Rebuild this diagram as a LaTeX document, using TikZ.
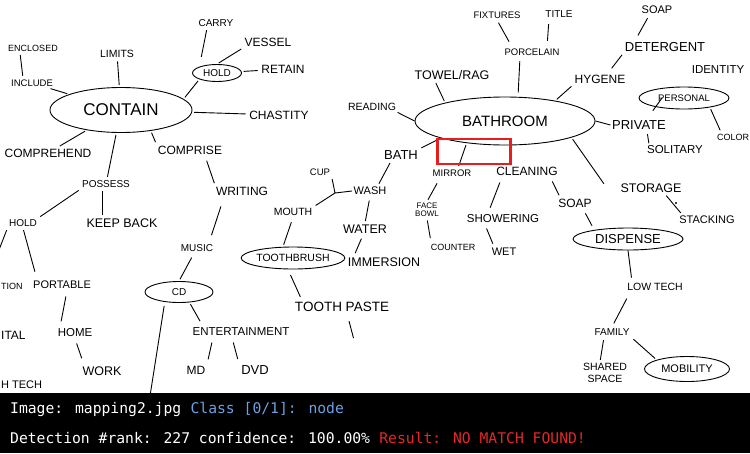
\documentclass[tikz,border=0pt]{standalone}
\usepackage{fontspec}
\setmainfont{Liberation Sans}
\newfontfamily\barfont{DejaVu Sans Mono}
\usetikzlibrary{shapes.geometric}
\definecolor{clsblue}{RGB}{110,160,225}
\definecolor{resred}{RGB}{228,40,40}
\definecolor{boxred}{RGB}{232,30,30}
\newcommand{\fsz}[1]{\fontsize{#1}{#1}\selectfont}
\begin{document}
\begin{tikzpicture}[x=1pt,y=-1pt,
  lbl/.style={inner sep=1.5pt,font=\fsz{10.5}},
  ov/.style={draw,ellipse,line width=0.9pt,inner sep=0pt},
  cn/.style={line width=0.9pt,shorten >=2pt,shorten <=2pt},
  bartext/.style={anchor=base west,inner sep=0pt,font=\barfont\fsz{14.7}}]
\useasboundingbox (0,0) rectangle (750,453);
\fill[white] (0,0) rectangle (750,453);
\begin{scope}
\clip (0,0) rectangle (750,393);
% ---------- CONTAIN cluster ----------
\node[ov,minimum width=142pt,minimum height=45pt,font=\fsz{17}] (contain) at (121,110) {CONTAIN};
\node[lbl] (limits) at (117,54) {LIMITS};
\node[lbl,font=\fsz{9}] (enclosed) at (33,48) {ENCLOSED};
\node[lbl,font=\fsz{9.5}] (include) at (32,83) {INCLUDE};
\node[lbl,font=\fsz{12}] (comprehend) at (48,153) {COMPREHEND};
\node[lbl,font=\fsz{12}] (comprise) at (190,150) {COMPRISE};
\node[lbl,font=\fsz{10}] (possess) at (106,184) {POSSESS};
\node[ov,minimum width=49pt,minimum height=17pt,font=\fsz{10}] (hold1) at (217,73) {HOLD};
\node[lbl,font=\fsz{10}] (carry) at (216,23) {CARRY};
\node[lbl,font=\fsz{12}] (vessel) at (268,42) {VESSEL};
\node[lbl,font=\fsz{12}] (retain) at (283,69) {RETAIN};
\node[lbl,font=\fsz{12}] (chastity) at (279,115) {CHASTITY};
\node[lbl,font=\fsz{10}] (hold2) at (23,223) {HOLD};
\node[lbl,font=\fsz{12.5}] (keepback) at (122,223) {KEEP BACK};
\node[font=\fsz{9},anchor=west,inner sep=0pt] (tion) at (1,286) {TION};
\node[lbl,font=\fsz{11}] (portable) at (62,285) {PORTABLE};
\node[font=\fsz{12},anchor=west,inner sep=0pt] (ital) at (1,335) {ITAL};
\node[lbl,font=\fsz{11.5}] (home) at (75,333) {HOME};
\node[lbl,font=\fsz{12.5}] (work) at (102,371) {WORK};
\node[font=\fsz{11},anchor=west,inner sep=0pt] (htech) at (1,385) {H TECH};
\node[lbl,font=\fsz{12}] (writing) at (242,191) {WRITING};
\node[lbl,font=\fsz{10}] (music) at (197,248) {MUSIC};
\node[ov,minimum width=68pt,minimum height=21pt,font=\fsz{10}] (cd) at (179,292) {CD};
\node[lbl,font=\fsz{11.5}] (entertainment) at (241,332) {ENTERTAINMENT};
\node[lbl,font=\fsz{12}] (md) at (196,370) {MD};
\node[lbl,font=\fsz{13}] (dvd) at (255,370) {DVD};
\coordinate (cdend) at (150,396);
% ---------- middle ----------
\node[lbl,font=\fsz{9.5}] (cup) at (320,172) {CUP};
\node[lbl,font=\fsz{11}] (wash) at (370,191) {WASH};
\node[lbl,font=\fsz{10.5}] (mouth) at (293,212) {MOUTH};
\node[lbl,font=\fsz{12.5}] (water) at (365,229) {WATER};
\node[lbl,font=\fsz{12.5}] (immersion) at (384,262) {IMMERSION};
\node[ov,minimum width=84pt,minimum height=22pt,font=\fsz{10.5}] (toothbrush) at (293,258) {TOOTHBRUSH};
\node[lbl,font=\fsz{13.5}] (toothpaste) at (342,307) {TOOTH PASTE};
\coordinate (tpend) at (354,340);
\coordinate (cupbend) at (335,193);
\node[lbl,font=\fsz{13}] (bath) at (401,155) {BATH};
% ---------- BATHROOM cluster ----------
\node[ov,minimum width=180pt,minimum height=48pt,font=\fsz{15}] (bathroom) at (505,121) {BATHROOM};
\node[lbl,font=\fsz{12.5}] (towel) at (452,75) {TOWEL/RAG};
\node[lbl,font=\fsz{10.5}] (reading) at (372,107) {READING};
\node[lbl,font=\fsz{9.5}] (mirror) at (452,173) {MIRROR};
\node[lbl,font=\fsz{12}] (cleaning) at (527,171) {CLEANING};
\node[lbl,font=\fsz{9.5}] (porcelain) at (532,52) {PORCELAIN};
\node[lbl,font=\fsz{9.5}] (fixtures) at (497,15) {FIXTURES};
\node[lbl,font=\fsz{10}] (title) at (559,14) {TITLE};
\node[lbl,font=\fsz{12}] (hygene) at (600,79) {HYGENE};
\node[lbl,font=\fsz{13}] (detergent) at (665,47) {DETERGENT};
\node[lbl,font=\fsz{11}] (soapa) at (657,10) {SOAP};
\node[lbl,font=\fsz{11.5}] (identity) at (718,70) {IDENTITY};
\node[ov,minimum width=90pt,minimum height=22pt,font=\fsz{9.5}] (personal) at (684,98) {PERSONAL};
\node[lbl,font=\fsz{13}] (private) at (639,125) {PRIVATE};
\node[lbl,font=\fsz{9}] (color) at (733,137) {COLOR};
\node[lbl,font=\fsz{11.5}] (solitary) at (675,150) {SOLITARY};
\node[lbl,font=\fsz{12.5}] (storage) at (651,188) {STORAGE};
\node[lbl,font=\fsz{11}] (stacking) at (707,220) {STACKING};
\node[lbl,font=\fsz{12}] (soapb) at (575,203) {SOAP};
\node[ov,minimum width=110pt,minimum height=22pt,font=\fsz{13}] (dispense) at (628,239) {DISPENSE};
\node[lbl,font=\fsz{10.5}] (lowtech) at (655,287) {LOW TECH};
\node[lbl,font=\fsz{10}] (family) at (612,332) {FAMILY};
\node[lbl,font=\fsz{10.5},align=center] (shared) at (605,373) {SHARED\\[1pt]SPACE};
\node[ov,minimum width=85pt,minimum height=25pt,font=\fsz{11}] (mobility) at (687,369) {MOBILITY};
\node[lbl,font=\fsz{8},align=center] (facebowl) at (427,210) {FACE\\BOWL};
\node[lbl,font=\fsz{9}] (counter) at (453,247) {COUNTER};
\node[lbl,font=\fsz{11.5}] (showering) at (503,219) {SHOWERING};
\node[lbl,font=\fsz{11}] (wet) at (504,252) {WET};
% ---------- connectors ----------
\draw[cn] (contain) -- (limits);
\draw[cn] ([xshift=-13pt]enclosed.south) -- ([xshift=-9pt]include.north);
\draw[cn] (include) -- (contain);
\draw[cn] (contain) -- (comprehend);
\draw[cn] (contain.-35) -- (comprise.north west);
\draw[cn] (contain) -- (possess);
\draw[cn] (contain.10) -- (hold1.south west);
\draw[cn,shorten <=10pt] (hold1.north west) -- ([xshift=-9pt]carry.south);
\draw[cn] (hold1.north) -- (vessel.south west);
\draw[cn] (hold1) -- (retain);
\draw[cn] (contain) -- (chastity);
\draw[cn] (possess.south west) -- (hold2.north east);
\draw[cn] ([xshift=-4pt]possess.south) -- ([xshift=-20pt]keepback.north);
\coordinate (holdoff) at (-3,255);
\draw[cn] (hold2.south west) -- (holdoff);
\draw[cn,shorten >=8pt] (hold2.south) -- ([xshift=-25pt]portable.north);
\draw[cn,shorten <=6pt,shorten >=6pt] ([xshift=5pt]portable.south) -- ([xshift=-15pt]home.north);
\draw[cn,shorten <=5pt,shorten >=7pt] (home.south) -- ([xshift=-18pt]work.north);
\draw[cn,shorten <=5pt] ([xshift=15pt]comprise.south) -- ([xshift=-27pt]writing.north);
\draw[cn,shorten <=10pt,shorten >=8pt] ([xshift=-18pt]writing.south) -- ([xshift=12pt]music.north);
\draw[cn,shorten <=5pt] ([xshift=-3pt]music.south) -- (cd.north);
\draw[cn,shorten <=4pt] (cd.-145) -- (cdend);
\draw[cn,shorten >=6pt] (cd.-45) -- ([xshift=-38pt]entertainment.north);
\draw[cn,shorten <=5pt,shorten >=5pt] ([xshift=-28pt]entertainment.south) -- (md.north east);
\draw[cn,shorten <=5pt,shorten >=5pt] ([xshift=-9pt]entertainment.south) -- ([xshift=-16pt]dvd.north);
\draw[cn,shorten >=0pt] (cup.south east) -- (cupbend) -- (wash.west);
\draw[cn,shorten >=0pt] (mouth.north east) -- (cupbend);
\draw[cn,shorten <=2pt] ([xshift=8pt]wash.north) -- ([xshift=-10pt]bath.south);
\draw[cn,shorten <=4pt] (wash.south) -- (water.north);
\draw[cn,shorten <=4pt,shorten >=3pt] ([xshift=-2pt]water.south) -- ([xshift=-30pt]immersion.north);
\draw[cn,shorten <=5pt] (mouth.south) -- ([xshift=-10pt]toothbrush.north);
\draw[cn,shorten <=6pt,shorten >=4pt] ([xshift=-5pt]toothbrush.south) -- ([xshift=-40pt]toothpaste.north);
\draw[cn,shorten <=8pt] ([xshift=5pt]toothpaste.south) -- (tpend);
\draw[cn] (bathroom.-165) -- (bath.north east);
\draw[cn] (bathroom.-150) -- ([xshift=6pt]mirror.north);
\draw[cn] ([xshift=-17pt]towel.south) -- (bathroom.163);
\draw[cn,shorten <=0pt,shorten >=0pt] (reading.south east) -- (bathroom.west);
\draw[cn,shorten <=4pt,shorten >=4pt] ([xshift=-12pt]porcelain.south) -- ([xshift=13pt]bathroom.north);
\draw[cn,shorten <=6pt,shorten >=3pt] ([xshift=-20pt]porcelain.north) -- (fixtures.south);
\draw[cn,shorten <=6pt,shorten >=5pt] ([xshift=15pt]porcelain.north) -- ([xshift=-10pt]title.south);
\draw[cn] (bathroom.22) -- (hygene.south west);
\draw[cn,shorten <=6pt] ([xshift=8pt]hygene.north) -- (detergent.south west);
\draw[cn,shorten <=6pt,shorten >=3pt] ([xshift=-30pt]detergent.north) -- ([xshift=-8pt]soapa.south);
\draw[cn,shorten <=0pt,shorten >=0pt] (bathroom.east) -- (private.west);
\draw[cn,shorten <=10pt,shorten >=0pt] ([xshift=8pt]private.north) -- ([xshift=-22pt]personal.center);
\draw[cn,shorten <=3pt,shorten >=1pt] ([xshift=8pt]private.south) -- ([xshift=-26pt]solitary.north);
\draw[cn] (personal.-20) -- ([xshift=-12pt]color.north);
\draw[cn,shorten >=5pt] (bathroom.-14) -- ([xshift=-12pt]storage.west);
\draw[cn] ([xshift=14pt]storage.south) -- ([xshift=-25pt]stacking.north);
\fill (676,203) circle (1.2pt);
\draw[cn,shorten <=6pt,shorten >=6pt] ([xshift=-25pt]cleaning.south) -- ([xshift=-15pt]showering.north);
\draw[cn,shorten <=5pt] ([xshift=23pt]cleaning.south) -- ([xshift=-15pt]soapb.north);
\draw[cn,shorten <=4pt,shorten >=3pt] ([xshift=-18pt]showering.south) -- ([xshift=-10pt]wet.north);
\draw[cn,shorten <=6pt] ([xshift=-12pt]mirror.south) -- (facebowl.north);
\draw[cn,shorten >=4pt] (facebowl.south) -- ([xshift=-22pt]counter.north);
\draw[cn,shorten <=5pt] ([xshift=8pt]soapb.south) -- ([xshift=-35pt]dispense.north);
\draw[cn,shorten <=0pt,shorten >=4pt] (dispense.south) -- ([xshift=-23pt]lowtech.north);
\draw[cn,shorten <=7pt,shorten >=4pt] ([xshift=-25pt]lowtech.south) -- (family.north);
\draw[cn,shorten <=3pt] ([xshift=-8pt]family.south) -- ([xshift=-5pt]shared.north);
\draw[cn,shorten <=3pt] (family.south east) -- (mobility.north west);
% red detection box
\node[draw=boxred,line width=2.5pt,minimum width=73pt,minimum height=25pt,inner sep=0pt] (redbox) at (474,151.5) {};
\end{scope}
% ---------- bottom bar ----------
\fill[black] (0,393) rectangle (750,453);
\node[bartext,text=white] (imgl) at (10,413) {Image: mapping2.jpg};
\node[bartext,text=clsblue,anchor=base west] (cls) at (imgl.base east) {\ Class [0/1]: node};
\node[bartext,text=white] (det) at (10,443) {Detection \#rank: 227 confidence: 100.00\%};
\node[bartext,text=resred,anchor=base west] (res) at (det.base east) {\ Result: NO MATCH FOUND!};
\end{tikzpicture}
\end{document}
